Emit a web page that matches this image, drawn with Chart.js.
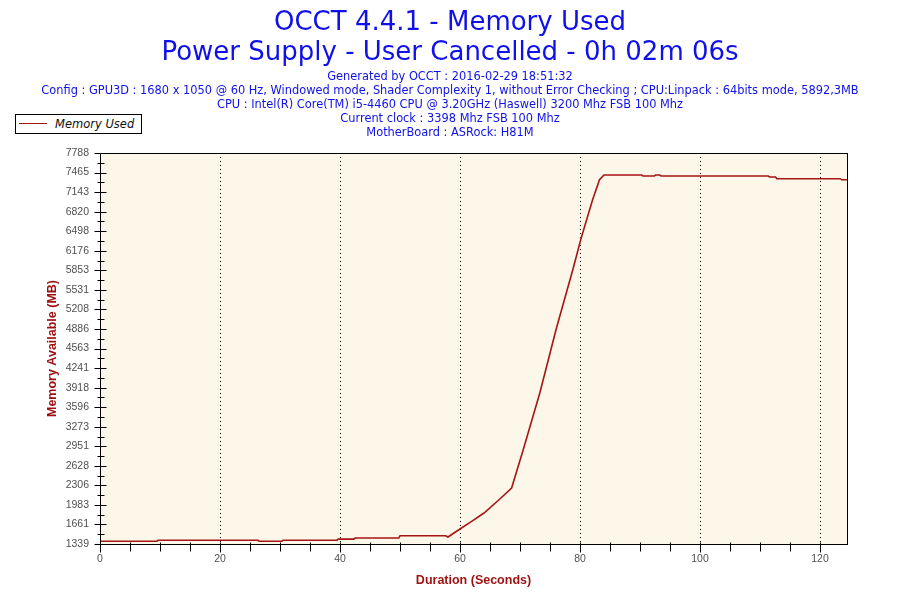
<!DOCTYPE html>
<html>
<head>
<meta charset="utf-8">
<script src="https://cdn.jsdelivr.net/npm/chart.js@4.4.1/dist/chart.umd.min.js"></script>
<style>
  html, body { margin: 0; padding: 0; background: #ffffff; }
  #wrap { position: relative; width: 900px; height: 600px; }
  #legend {
    position: absolute; left: 15px; top: 114px; width: 125px; height: 18px;
    border: 1px solid #000; background: #fff; box-sizing: content-box;
    font-family: "DejaVu Sans", Verdana, sans-serif; font-style: italic; font-size: 11.5px; color: #111;
  }
  #legend .swatch { position: absolute; left: 3px; top: 8px; width: 28px; height: 0; border-top: 1.5px solid #a51515; }
  #legend .label { position: absolute; left: 39px; top: 1px; line-height: 16px; white-space: nowrap; }
</style>
</head>
<body>
<div id="wrap">
  <canvas id="c" width="900" height="600"></canvas>
  <div id="legend"><span class="swatch"></span><span class="label">Memory Used</span></div>
</div>
<script>
// ---- data ----
const titleLines = [
  'OCCT 4.4.1 - Memory Used',
  'Power Supply - User Cancelled - 0h 02m 06s'
];
const subtitleLines = [
  'Generated by OCCT : 2016-02-29 18:51:32',
  'Config : GPU3D : 1680 x 1050 @ 60 Hz, Windowed mode, Shader Complexity 1, without Error Checking ; CPU:Linpack : 64bits mode, 5892,3MB',
  'CPU : Intel(R) Core(TM) i5-4460 CPU @ 3.20GHz (Haswell) 3200 Mhz FSB 100 Mhz',
  'Current clock : 3398 Mhz FSB 100 Mhz',
  'MotherBoard : ASRock: H81M'
];
const seriesName = 'Memory Used';
const durationSeconds = [
  0, 9.5, 9.7, 26.3, 26.5, 30.3, 30.5, 39.5, 39.7, 42.3, 42.5, 49.8, 50.0, 57.6, 58.0,
  60, 62, 64, 66.5, 68.6, 70.5, 73.3, 76.0, 78.8, 80.2, 82.1, 83.25, 84.0,
  90.3, 90.5, 92.4, 92.6, 93.3, 93.5, 111.4, 111.6, 112.6, 112.8, 123.4, 123.6, 124.5
];
const memoryMB = [
  1385, 1385, 1402, 1402, 1385, 1385, 1402, 1402, 1420, 1420, 1437, 1437, 1476, 1476, 1454,
  1586, 1715, 1850, 2069, 2262, 2880, 3829, 4873, 5862, 6385, 7017, 7346, 7424,
  7424, 7408, 7408, 7424, 7424, 7408, 7408, 7391, 7391, 7363, 7363, 7346, 7346
];
const xTicks = [0, 20, 40, 60, 80, 100, 120];
const xMinorStep = 5;
const xMin = 0, xMax = 124.5;
const yTicks = [1339, 1661, 1983, 2306, 2628, 2951, 3273, 3596, 3918, 4241, 4563, 4886,
                5208, 5531, 5853, 6176, 6498, 6820, 7143, 7465, 7788];
const xTitle = 'Duration (Seconds)';
const yTitle = 'Memory Available (MB)';

// ---- styling ----
const LINE_COLOR = '#a51515';
const AXIS_TITLE_COLOR = '#9e1010';
const TICK_COLOR = '#505050';
const TEXT_BLUE = '#1010e8';
const PLOT_BG = '#fdf7e9';

const framePlugin = {
  id: 'frame',
  beforeDraw(chart) {
    const { ctx, chartArea: a } = chart;
    ctx.save();
    ctx.fillStyle = PLOT_BG;
    ctx.fillRect(a.left, a.top, a.right - a.left, a.bottom - a.top);
    ctx.restore();
  },
  afterDraw(chart) {
    const { ctx, chartArea: a, scales } = chart;
    ctx.save();
    ctx.strokeStyle = '#000';
    ctx.lineWidth = 1;
    ctx.strokeRect(Math.round(a.left) + 0.5, Math.round(a.top) + 0.5,
                   Math.round(a.right - a.left), Math.round(a.bottom - a.top));
    const xs = scales.x, ys = scales.y;
    const yb = Math.round(a.bottom) + 0.5;
    ctx.beginPath();
    for (let v = xMin; v <= xMax + 1e-9; v += xMinorStep) {
      const px = Math.round(xs.getPixelForValue(v)) + 0.5;
      const major = xTicks.includes(v);
      ctx.moveTo(px, yb - 2);
      ctx.lineTo(px, yb + (major ? 8 : 7));
    }
    const xl = Math.round(a.left) + 0.5;
    for (let i = 0; i < yTicks.length; i++) {
      const py = Math.round(ys.getPixelForValue(yTicks[i])) + 0.5;
      ctx.moveTo(xl - 6, py); ctx.lineTo(xl + 6, py);
      if (i < yTicks.length - 1) {
        const pm = Math.round(ys.getPixelForValue((yTicks[i] + yTicks[i + 1]) / 2)) + 0.5;
        ctx.moveTo(xl - 3, pm); ctx.lineTo(xl + 4, pm);
      }
    }
    ctx.stroke();
    ctx.restore();
  }
};

new Chart(document.getElementById('c'), {
  type: 'line',
  data: {
    datasets: [{
      label: seriesName,
      data: durationSeconds.map((x, i) => ({ x, y: memoryMB[i] })),
      borderColor: LINE_COLOR,
      borderWidth: 1.6,
      pointRadius: 0,
      tension: 0,
      fill: false
    }]
  },
  options: {
    responsive: false,
    animation: false,
    devicePixelRatio: 1,
    layout: { padding: { left: 0, right: 0, top: 0, bottom: 0 } },
    plugins: {
      legend: { display: false },
      tooltip: { enabled: false },
      title: {
        display: true,
        text: titleLines,
        color: TEXT_BLUE,
        font: { family: '"DejaVu Sans", Verdana, sans-serif', size: 26, weight: 'normal', lineHeight: 30 / 26 },
        padding: { top: 8, bottom: 2 }
      },
      subtitle: {
        display: true,
        text: subtitleLines,
        color: TEXT_BLUE,
        font: { family: '"DejaVu Sans", Verdana, sans-serif', size: 11.4, weight: 'normal', lineHeight: 14 / 11.4 },
        padding: { top: 0, bottom: 13 }
      }
    },
    scales: {
      x: {
        type: 'linear',
        min: xMin,
        max: xMax,
        afterBuildTicks: s => { s.ticks = xTicks.map(v => ({ value: v })); },
        afterFit: s => { s.height = 56; },
        ticks: {
          color: TICK_COLOR,
          font: { family: '"Liberation Sans", Arial, sans-serif', size: 10.5 },
          padding: 9,
          maxRotation: 0
        },
        grid: {
          drawTicks: false,
          color: c => (c.tick && c.tick.value === 0) ? 'rgba(0,0,0,0)' : '#000',
          lineWidth: 1
        },
        border: { display: false, dash: [1, 3] },
        title: {
          display: true,
          text: xTitle,
          color: AXIS_TITLE_COLOR,
          font: { family: '"Liberation Sans", Arial, sans-serif', size: 12.5, weight: 'bold', lineHeight: 1.2 },
          padding: { top: 0, bottom: 12 }
        }
      },
      y: {
        type: 'linear',
        min: yTicks[0],
        max: yTicks[yTicks.length - 1],
        afterBuildTicks: s => { s.ticks = yTicks.map(v => ({ value: v })); },
        afterFit: s => { s.width = 100; },
        ticks: {
          color: TICK_COLOR,
          font: { family: '"Liberation Sans", Arial, sans-serif', size: 10.5 },
          padding: 11,
          callback: v => String(v)
        },
        grid: { display: false, drawTicks: false },
        border: { display: false },
        title: {
          display: true,
          text: yTitle,
          color: AXIS_TITLE_COLOR,
          font: { family: '"Liberation Sans", Arial, sans-serif', size: 12.5, weight: 'bold', lineHeight: 1.2 },
          padding: { top: 45, bottom: 0 }
        }
      },
      yRight: {
        type: 'linear',
        position: 'right',
        display: true,
        min: yTicks[0],
        max: yTicks[yTicks.length - 1],
        afterFit: s => { s.width = 53; },
        ticks: { display: false },
        grid: { display: false, drawTicks: false },
        border: { display: false }
      }
    }
  },
  plugins: [framePlugin]
});
</script>
</body>
</html>
